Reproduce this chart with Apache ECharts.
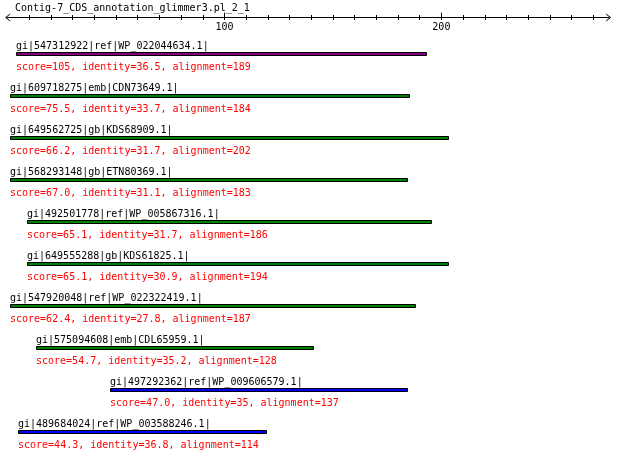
<!DOCTYPE html>
<html>
<head>
<meta charset="utf-8">
<script src="https://cdn.jsdelivr.net/npm/echarts@6/dist/echarts.min.js"></script>
<style>
html,body{margin:0;padding:0;background:#fff;}
#chart{width:620px;height:461px;}
</style>
</head>
<body>
<div id="chart"></div>
<script>
const titleText = 'Contig-7_CDS_annotation_glimmer3.pl_2_1';
const hitNames = [
  'gi|547312922|ref|WP_022044634.1|',
  'gi|609718275|emb|CDN73649.1|',
  'gi|649562725|gb|KDS68909.1|',
  'gi|568293148|gb|ETN80369.1|',
  'gi|492501778|ref|WP_005867316.1|',
  'gi|649555288|gb|KDS61825.1|',
  'gi|547920048|ref|WP_022322419.1|',
  'gi|575094608|emb|CDL65959.1|',
  'gi|497292362|ref|WP_009606579.1|',
  'gi|489684024|ref|WP_003588246.1|'
];
const hitStarts = [4, 1, 1, 1, 9, 9, 1, 13, 47, 5];
const hitAlignments = [189, 184, 202, 183, 186, 194, 187, 128, 137, 114];
const hitScores = ['105', '75.5', '66.2', '67.0', '65.1', '65.1', '62.4', '54.7', '47.0', '44.3'];
const hitIdentities = ['36.5', '33.7', '31.7', '31.1', '31.7', '30.9', '27.8', '35.2', '35', '36.8'];
const hitColors = ['#800080', '#008000', '#008000', '#008000', '#008000', '#008000', '#008000', '#008000', '#0000ff', '#0000ff'];
const majorTicks = [100, 200];
const minorTicks = [10, 20, 30, 40, 50, 60, 70, 80, 90, 110, 120, 130, 140, 150, 160, 170, 180, 190, 210, 220, 230, 240, 250, 260, 270];
const axisMin = 0;
const axisMax = 277.1;

const FONT = '"DejaVu Sans Mono", "Liberation Mono", monospace';
const GL = 7.6, GW = 601;

const chart = echarts.init(document.getElementById('chart'), null, {renderer: 'canvas'});

const seriesData = hitStarts.map((s, i) => [s, s + hitAlignments[i], i]);

const arrowPath = 'path://M0,5 L4,0 L8,5 L6.9,5 L4,1.4 L1.1,5 Z';

function hiddenY(gi) {
  return {gridIndex: gi, type: 'value', show: false, min: 0, max: 1};
}

const option = {
  backgroundColor: '#ffffff',
  animation: false,
  title: {
    text: titleText,
    left: 10,
    top: -2,
    textStyle: {fontFamily: FONT, fontSize: 10, fontWeight: 'normal', color: '#000'}
  },
  grid: [
    {left: GL, width: GW, top: 17.5, height: 400},
    {left: GL, width: GW, top: 17.5, height: 400},
    {left: GL, width: GW, top: 17.5, height: 400},
    {left: GL, width: GW, top: 33.3, height: 420}
  ],
  xAxis: [
    {
      gridIndex: 0, type: 'value', position: 'top', min: axisMin, max: axisMax,
      axisLine: {show: true, onZero: false, lineStyle: {color: '#000', width: 1}, symbol: [arrowPath, arrowPath], symbolSize: [8, 5]},
      axisTick: {show: false}, axisLabel: {show: false}, splitLine: {show: false}
    },
    {
      gridIndex: 1, type: 'value', position: 'top', min: axisMin, max: axisMax, offset: -2.5,
      axisLine: {show: false, onZero: false},
      axisTick: {show: true, length: 5, customValues: minorTicks, lineStyle: {color: '#000', width: 1}},
      axisLabel: {show: false}, splitLine: {show: false}
    },
    {
      gridIndex: 2, type: 'value', position: 'top', min: axisMin, max: axisMax, offset: -2.5,
      axisLine: {show: false, onZero: false},
      axisTick: {show: true, length: 7.3, customValues: majorTicks, lineStyle: {color: '#000', width: 1}},
      axisLabel: {show: true, inside: true, margin: 2, customValues: majorTicks, fontFamily: FONT, fontSize: 10, color: '#000'},
      splitLine: {show: false}
    },
    {
      gridIndex: 3, type: 'value', min: axisMin, max: axisMax, show: false
    }
  ],
  yAxis: [
    hiddenY(0), hiddenY(1), hiddenY(2),
    {gridIndex: 3, type: 'category', data: hitNames, inverse: true, show: false}
  ],
  series: [{
    type: 'custom',
    xAxisIndex: 3,
    yAxisIndex: 3,
    clip: false,
    data: seriesData,
    encode: {x: [0, 1], y: 2},
    renderItem: function (params, api) {
      const idx = api.value(2);
      const p0 = api.coord([api.value(0), idx]);
      const p1 = api.coord([api.value(1), idx]);
      const x0 = Math.round(p0[0]) + 0.5;
      const x1 = Math.round(p1[0]) + 0.5;
      const cy = p0[1];
      const top = Math.floor(cy) - 1.5;
      const tx = Math.round(p0[0]);
      return {
        type: 'group',
        children: [
          {
            type: 'rect',
            shape: {x: x0, y: top, width: x1 - x0, height: 3},
            style: {fill: hitColors[idx], stroke: '#000', lineWidth: 1}
          },
          {
            type: 'text',
            style: {
              x: tx, y: cy - 7.5, text: hitNames[idx],
              font: '10px ' + FONT, fill: '#000', verticalAlign: 'middle', align: 'left'
            }
          },
          {
            type: 'text',
            style: {
              x: tx, y: cy + 13,
              text: 'score=' + hitScores[idx] + ', identity=' + hitIdentities[idx] + ', alignment=' + hitAlignments[idx],
              font: '10px ' + FONT, fill: '#ff0000', verticalAlign: 'middle', align: 'left'
            }
          }
        ]
      };
    }
  }]
};

chart.setOption(option);
</script>
</body>
</html>
